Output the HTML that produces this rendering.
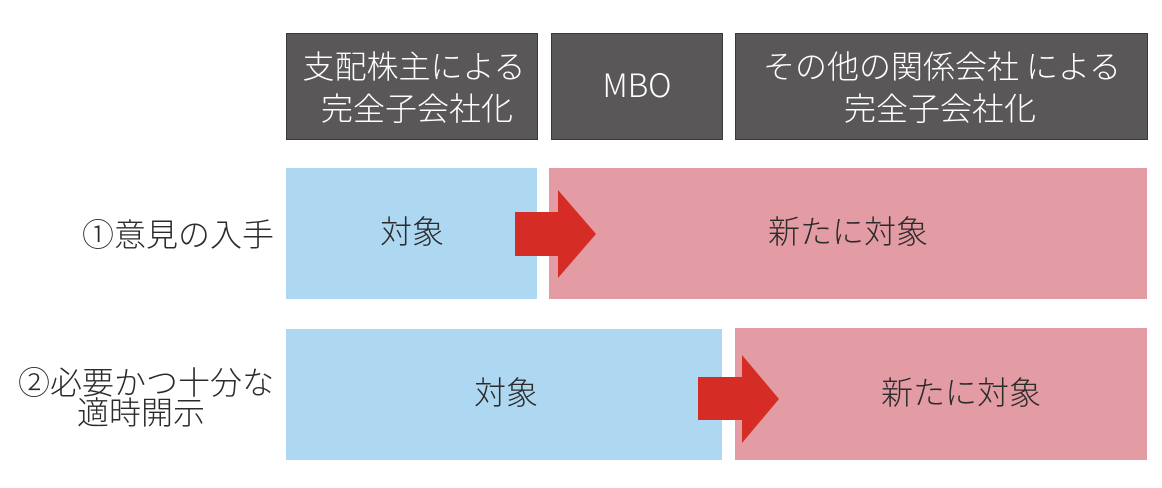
<!DOCTYPE html>
<html>
<head>
<meta charset="utf-8">
<style>
  html,body{margin:0;padding:0;background:#fff;}
  body{width:1162px;height:488px;position:relative;overflow:hidden;
    font-family:"Liberation Sans","Noto Sans CJK JP",sans-serif;}
  .box{position:absolute;box-sizing:border-box;}
  .hdr{background:#595757;border:1px solid #3a3a3a;}
  .blue{background:#aed8f2;}
  .pink{background:#e49ca4;}
  .t{position:absolute;font-size:32px;line-height:32px;height:32px;white-space:nowrap;font-weight:300;
     font-family:"Noto Sans CJK JP","Liberation Sans",sans-serif;}
  .w{color:#fff;}
  .d{color:#2b2b2b;}
  .c{text-align:center;}
  .r{text-align:right;}
</style>
</head>
<body>
  <!-- header boxes -->
  <div class="box hdr" style="left:286px;top:33px;width:252px;height:107px;"></div>
  <div class="box hdr" style="left:551px;top:33px;width:172px;height:107px;"></div>
  <div class="box hdr" style="left:735px;top:33px;width:413px;height:107px;"></div>

  <div class="t w c" style="left:286px;width:256px;top:49px;">支配株主による</div>
  <div class="t w c" style="left:290px;width:254px;top:91px;">完全子会社化</div>
  <div class="t w c" style="left:551px;width:172px;top:68px;">MBO</div>
  <div class="t w c" style="left:735px;width:414px;top:49px;">その他の関係会社 による</div>
  <div class="t w c" style="left:735px;width:410px;top:91px;">完全子会社化</div>

  <!-- row 1 -->
  <div class="box blue" style="left:286px;top:168px;width:251px;height:131px;"></div>
  <div class="box pink" style="left:549px;top:168px;width:598px;height:131px;"></div>
  <!-- row 2 -->
  <div class="box blue" style="left:286px;top:329px;width:436px;height:131px;"></div>
  <div class="box pink" style="left:735px;top:328px;width:412px;height:132px;"></div>

  <!-- arrows -->
  <svg width="1162" height="488" style="position:absolute;left:0;top:0;">
    <polygon points="515,212 558,212 558,190 596,234 558,278 558,256 515,256" fill="#d52c26"/>
    <polygon points="698,377 742,377 742,355 779,399 742,443 742,420 698,420" fill="#d52c26"/>
  </svg>

  <!-- left labels -->
  <div class="t d r" style="left:0;width:274px;top:217px;">①意見の入手</div>
  <div class="t d r" style="left:0;width:274px;top:365px;">②必要かつ十分な</div>
  <div class="t d c" style="left:41px;width:200px;top:395px;">適時開示</div>

  <!-- box labels -->
  <div class="t d c" style="left:312px;width:200px;top:214px;">対象</div>
  <div class="t d c" style="left:748px;width:200px;top:214px;">新たに対象</div>
  <div class="t d c" style="left:406px;width:200px;top:375px;">対象</div>
  <div class="t d c" style="left:861px;width:200px;top:375px;">新たに対象</div>
</body>
</html>
